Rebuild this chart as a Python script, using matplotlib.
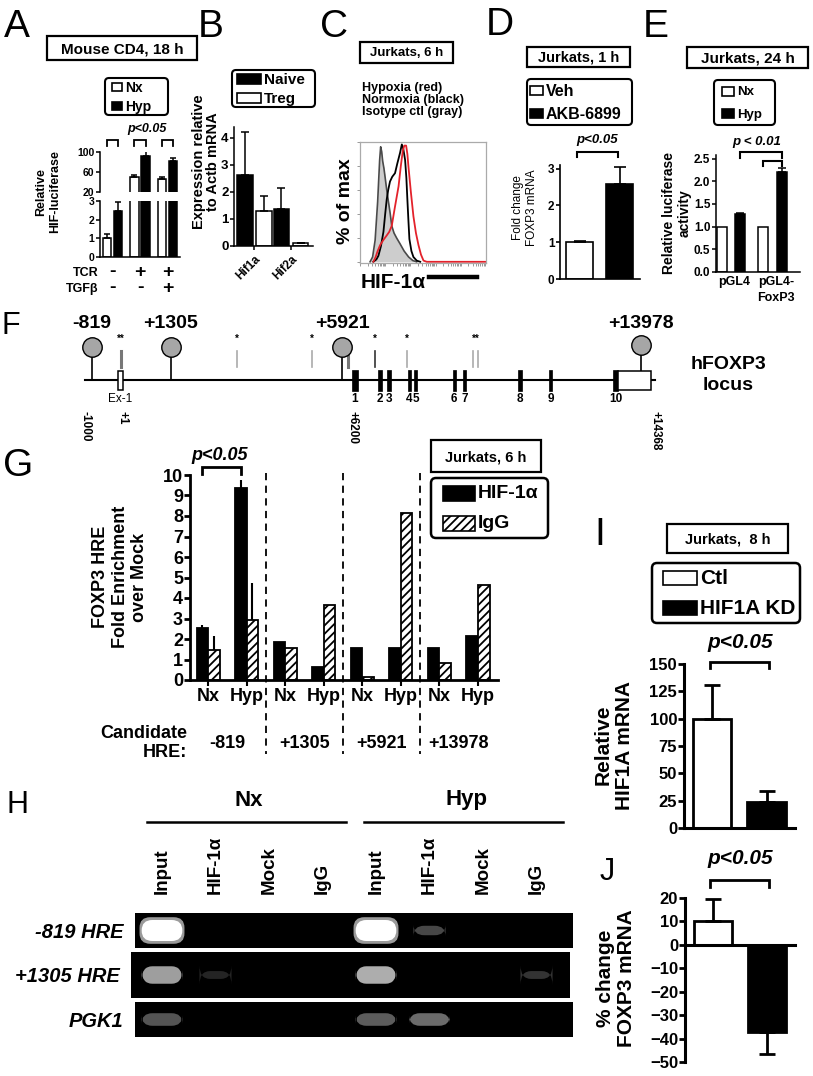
import matplotlib
matplotlib.use('Agg')
import matplotlib.pyplot as plt
from matplotlib.patches import Rectangle, FancyBboxPatch
from matplotlib.transforms import blended_transform_factory as blend
import numpy as np

plt.rcParams['font.family'] = ['Liberation Sans', 'DejaVu Sans']
plt.rcParams['font.weight'] = 'bold'
plt.rcParams['hatch.linewidth'] = 1.3
plt.rcParams['axes.linewidth'] = 1.3

W, H = 813, 1076

# A: HIF-luciferase in mouse CD4 cells
a_tcr = ['-', '+', '+']
a_tgfb = ['-', '-', '+']
a_nx = [1.0, 50, 45]
a_nx_err = [0.22, 4, 4]
a_hyp = [2.45, 92, 82]
a_hyp_err = [0.5, 13, 5]

# B: Hif expression
b_genes = ['Hif1a', 'Hif2a']
b_naive = [2.62, 1.35]
b_naive_err = [1.58, 0.8]
b_treg = [1.3, 0.1]
b_treg_err = [0.55, 0.02]

# C: flow histograms, x in log10 decades, y in % of max
c_iso_x = [0.40, 0.50, 0.60, 0.70, 0.78, 0.82, 0.86, 0.90, 0.95, 1.00, 1.06, 1.13,
           1.20, 1.26, 1.35, 1.45, 1.59, 1.75, 1.93, 2.10, 2.25]
c_iso_y = [0, 4, 18, 50, 85, 96, 92, 84, 78, 70, 60, 50, 40, 30, 24, 20, 15, 9, 4, 1, 0]
c_nx_x = [0.53, 0.65, 0.73, 0.83, 0.93, 1.00, 1.06, 1.12, 1.19, 1.28, 1.39, 1.48,
          1.59, 1.66, 1.72, 1.79, 1.84, 1.88, 1.92, 1.96, 2.04, 2.12, 2.25, 2.39]
c_nx_y = [0, 2, 5, 13, 25, 40, 52, 60, 67, 71, 74, 82, 91, 98, 94, 85, 70, 52, 35, 19,
          9, 4, 1, 0]
c_hyp_x = [0.53, 0.62, 0.70, 0.80, 0.92, 1.06, 1.16, 1.26, 1.38, 1.53, 1.62, 1.70,
           1.76, 1.83, 1.88, 1.92, 2.02, 2.12, 2.22, 2.32, 2.42, 2.52, 2.65, 5.0]
c_hyp_y = [0, 4, 9, 14, 18, 22, 25, 30, 45, 63, 80, 93, 97, 97, 90, 80, 58, 38, 24, 14,
           6, 1, 0, 0]

# D: FOXP3 mRNA with AKB-6899
d_groups = ['Veh', 'AKB-6899']
d_vals = [1.0, 2.58]
d_err = [0.03, 0.47]

# E: luciferase reporter
e_constructs = ['pGL4', 'pGL4-\nFoxP3']
e_nx = [1.0, 1.0]
e_hyp = [1.27, 2.2]
e_hyp_err = [0.04, 0.1]

# F: hFOXP3 locus, bp relative to TSS
locus = [-1000, 14368]
hre_sites = [-819, 1305, 5921, 13978]
ex1 = [-130, 20]
exon_start = [6190, 6900, 7140, 7690, 7860, 8900, 9170, 10650, 11500, 13220]
exon_end = [6350, 6990, 7250, 7770, 7950, 8980, 9260, 10770, 11590, 13360]
utr_end = 14248
cons_marks = [-40, 3090, 5110, 6080, 6810, 7670, 9450, 9585]
star_pos = [-40, 3090, 5110, 6810, 7670, 9517]
star_txt = ['**', '*', '*', '*', '*', '**']
pos_marks = [-1000, 1, 6200, 14368]
pos_labels = ['-1000', '+1', '+6200', '+14368']

# G: ChIP enrichment
g_sites = ['-819', '+1305', '+5921', '+13978']
g_cond = ['Nx', 'Hyp'] * 4
g_hif = [2.55, 9.35, 1.85, 0.65, 1.55, 1.55, 1.55, 2.15]
g_hif_err = [0.12, 0.42, 0, 0, 0, 0, 0, 0]
g_igg = [1.45, 2.95, 1.55, 3.65, 0.15, 8.15, 0.85, 4.65]
g_igg_err = [0.7, 1.8, 0, 0, 0, 0, 0, 0]

# H: gel band intensities (0 = none, 1 = saturated)
h_rows = ['-819 HRE', '+1305 HRE', 'PGK1']
h_lanes = ['Input', 'HIF-1α', 'Mock', 'IgG'] * 2
h_bands = [[1.0, 0, 0, 0, 1.0, 0.28, 0, 0],
           [0.62, 0.14, 0, 0, 0.68, 0, 0, 0.2],
           [0.33, 0, 0, 0, 0.36, 0.42, 0, 0]]

# I / J: knockdown
ij_groups = ['Ctl', 'HIF1A KD']
i_vals = [100, 24]
i_err = [31, 10]
j_vals = [10, -37]
j_err = [9.5, 9.5]


fig = plt.figure(figsize=(W / 100, H / 100), dpi=100)
ov = fig.add_axes([0, 0, 1, 1])
ov.set_xlim(0, W)
ov.set_ylim(H, 0)
ov.axis('off')
ov.set_zorder(10)
ov.set_autoscale_on(False)


def px_ax(x0, y0, x1, y1):
    return fig.add_axes([x0 / W, 1 - y1 / H, (x1 - x0) / W, (y1 - y0) / H])


def prism(ax, lw=1.3, fs=8):
    for s in ['top', 'right']:
        ax.spines[s].set_visible(False)
    for s in ['left', 'bottom']:
        ax.spines[s].set_linewidth(lw)
    ax.tick_params(axis='y', width=lw, length=3, labelsize=fs, pad=1)
    ax.tick_params(axis='x', length=0, labelsize=fs)
    ax.patch.set_alpha(0)


def errs(ax, x, v, e, lw=1.2, cap=2.5, down=False):
    z = np.zeros(len(v))
    yerr = [e, z] if down else [z, e]
    ax.errorbar(x, v, yerr=yerr, fmt='none', ecolor='k', elinewidth=lw, capsize=cap, capthick=lw)


def title_box(x0, y0, x1, y1, s, fs=10, lw=1.6):
    ov.add_patch(Rectangle((x0, y0), x1 - x0, y1 - y0, fill=False, ec='k', lw=lw))
    ov.text((x0 + x1) / 2, (y0 + y1) / 2 + 1, s, ha='center', va='center', fontsize=fs)


def legend_box(x0, y0, x1, y1, entries, sx, sw, sh, fs, lw=1.5, r=4):
    ov.add_patch(FancyBboxPatch((x0, y0), x1 - x0, y1 - y0, boxstyle='round,pad=0,rounding_size=%d' % r,
                                fc='white', ec='k', lw=lw))
    n = len(entries)
    for i, (lab, fc, hatch) in enumerate(entries):
        yc = y0 + (y1 - y0) * (i + 0.5) / n
        ov.add_patch(Rectangle((x0 + sx, yc - sh / 2), sw, sh, fc=fc, ec='k', lw=1.2, hatch=hatch))
        ov.text(x0 + sx + sw + 3, yc + 1, lab, va='center', ha='left', fontsize=fs)


def bracket(ax, x0, x1, y, leg=6, lw=1.5):
    tr = blend(ax.transData, ov.transData)
    ov.plot([x0, x0, x1, x1], [y + leg, y, y, y + leg], transform=tr, color='k', lw=lw,
            clip_on=False, solid_joinstyle='miter')


def letter(x, y, s, fs=28):
    ov.text(x, y, s, fontsize=fs, fontweight='normal', ha='left', va='baseline')


# ---------------- A ----------------
letter(4, 37, 'A')
title_box(47, 36, 197, 60, 'Mouse CD4, 18 h', fs=11)
legend_box(105, 78, 168, 115, [('Nx', 'white', None), ('Hyp', 'k', None)], 7, 10, 8, 10)
ov.text(147, 129, 'p<0.05', ha='center', va='center', fontsize=9, style='italic')
a_up = px_ax(100, 152, 180, 191.5)
a_lo = px_ax(100, 201, 180, 257)
xa = np.arange(3)
for ax in (a_up, a_lo):
    ax.bar(xa - 0.2, a_nx, 0.3, color='white', edgecolor='k', lw=1.1)
    ax.bar(xa + 0.2, a_hyp, 0.3, color='k', edgecolor='k', lw=1.1)
    errs(ax, xa - 0.2, a_nx, a_nx_err, lw=1.1, cap=2)
    errs(ax, xa + 0.2, a_hyp, a_hyp_err, lw=1.1, cap=2)
    ax.set_xlim(-0.45, 2.45)
    ax.set_xticks([])
    prism(ax, lw=1.1, fs=8)
a_up.set_ylim(20, 100)
a_up.set_yticks([20, 60, 100])
a_up.spines['bottom'].set_visible(False)
a_lo.set_ylim(0, 3)
a_lo.set_yticks([0, 1, 2, 3])
a_up.tick_params(axis='y', labelsize=7.5)
a_lo.tick_params(axis='y', labelsize=7.5)
for i in range(3):
    bracket(a_lo, i - 0.2, i + 0.2, 140, leg=6, lw=1.3)
tr_a = blend(a_lo.transData, ov.transData)
for i in range(3):
    ov.text(i, 272, a_tcr[i], transform=tr_a, ha='center', va='center', fontsize=14)
    ov.text(i, 288, a_tgfb[i], transform=tr_a, ha='center', va='center', fontsize=14)
ov.text(98, 273, 'TCR', ha='right', va='center', fontsize=9)
ov.text(98, 289, 'TGFβ', ha='right', va='center', fontsize=9)
ov.text(48, 192, 'Relative\nHIF-luciferase', rotation=90, ha='center', va='center', fontsize=9,
        linespacing=1.15)

# ---------------- B ----------------
letter(198, 37, 'B')
legend_box(232, 70, 315, 107, [('Naive', 'k', None), ('Treg', 'white', None)], 5, 24, 10, 11)
b_ax = px_ax(234, 127, 313, 246)
xb = np.arange(2)
b_ax.bar(xb - 0.26, b_naive, 0.43, color='k', edgecolor='k', lw=1.1)
b_ax.bar(xb + 0.26, b_treg, 0.43, color='white', edgecolor='k', lw=1.1)
errs(b_ax, xb - 0.26, b_naive, b_naive_err, lw=1.1, cap=3)
errs(b_ax, xb + 0.26, b_treg, b_treg_err, lw=1.1, cap=3)
b_ax.set_ylim(0, 4.4)
b_ax.set_yticks([0, 1, 2, 3, 4])
b_ax.set_xlim(-0.55, 1.6)
prism(b_ax, lw=1.1, fs=9.5)
b_ax.set_xticks(xb)
b_ax.set_xticklabels(b_genes, rotation=45, ha='right', rotation_mode='anchor', fontsize=8.5)
b_ax.tick_params(axis='x', length=3, width=1.1, pad=2)
ov.text(206, 162, 'Expression relative\nto Actb mRNA', rotation=90, ha='center', va='center',
        fontsize=10.5, linespacing=1.05)

# ---------------- C ----------------
letter(320, 37, 'C')
title_box(360, 42, 453, 63, 'Jurkats, 6 h', fs=9.5)
for k, s in enumerate(['Hypoxia (red)', 'Normoxia (black)', 'Isotype ctl (gray)']):
    ov.text(362, 88 + 12 * k, s, ha='left', va='center', fontsize=9)
c_ax = px_ax(360, 142, 486, 263)
c_ax.fill_between(c_iso_x, c_iso_y, color='#cdcdcd', lw=0)
c_ax.plot(c_iso_x, c_iso_y, color='#4a4a4a', lw=1.2)
c_ax.plot(c_nx_x, c_nx_y, color='k', lw=1.3)
c_ax.plot(c_hyp_x, c_hyp_y, color='#e3222b', lw=1.3)
c_ax.set_xlim(0, 5)
c_ax.set_ylim(-1, 100)
for s in c_ax.spines.values():
    s.set_color('#aaaaaa')
    s.set_linewidth(0.9)
c_ax.set_xticks([d + np.log10(k) for d in range(5) for k in range(1, 10)])
c_ax.set_yticks([0, 20, 40, 60, 80, 100])
c_ax.tick_params(length=2, width=0.7, color='#999999', labelbottom=False, labelleft=False)
ov.text(345, 201, '% of max', rotation=90, ha='center', va='center', fontsize=14)
ov.text(361, 283, 'HIF-1α', ha='left', va='center', fontsize=15)
ov.plot([429, 477], [277, 277], color='k', lw=3.2)

# ---------------- D ----------------
letter(486, 35, 'D')
title_box(527, 47, 630, 67, 'Jurkats, 1 h', fs=10.5)
legend_box(527, 79, 632, 125, [('Veh', 'white', None), ('AKB-6899', 'k', None)], 3, 13, 9, 11.5)
d_ax = px_ax(560, 165, 640, 279)
xd = np.arange(2)
d_ax.bar(xd, d_vals, 0.68, color=['white', 'k'], edgecolor='k', lw=1.2)
errs(d_ax, xd, d_vals, d_err, lw=1.2, cap=4)
d_ax.set_ylim(0, 3.1)
d_ax.set_yticks([0, 1, 2, 3])
d_ax.set_xlim(-0.49, 1.51)
d_ax.set_xticks([])
prism(d_ax, lw=1.2, fs=8.5)
ov.text(597, 140, 'p<0.05', ha='center', va='center', fontsize=9.5, style='italic')
bracket(d_ax, -0.07, 0.97, 152, leg=5)
ov.text(525, 208, 'Fold change\nFOXP3 mRNA', rotation=90, ha='center', va='center', fontsize=8.5,
        fontweight='normal', linespacing=1.3)

# ---------------- E ----------------
letter(643, 37, 'E')
title_box(687, 47, 808, 68, 'Jurkats, 24 h', fs=11)
legend_box(714, 80, 775, 125, [('Nx', 'white', None), ('Hyp', 'k', None)], 8, 12, 9, 9.5)
e_ax = px_ax(716, 155, 800, 272)
xe = np.arange(2)
e_ax.bar(xe - 0.22, e_nx, 0.24, color='white', edgecolor='k', lw=1.1)
e_ax.bar(xe + 0.22, e_hyp, 0.24, color='k', edgecolor='k', lw=1.1)
errs(e_ax, xe + 0.22, e_hyp, e_hyp_err, lw=1.1, cap=3)
e_ax.set_ylim(0, 2.58)
e_ax.set_yticks([0, 0.5, 1.0, 1.5, 2.0, 2.5])
e_ax.set_yticklabels(['0.0', '0.5', '1.0', '1.5', '2.0', '2.5'])
e_ax.set_xlim(-0.36, 1.66)
prism(e_ax, lw=1.1, fs=8.5)
e_ax.set_xticks(xe + 0.08)
e_ax.set_xticklabels(e_constructs, fontsize=9, linespacing=1.45, va='top')
e_ax.tick_params(axis='x', pad=3)
ov.text(757, 142, 'p < 0.01', ha='center', va='center', fontsize=9.5, style='italic')
bracket(e_ax, 0.22, 1.22, 152, leg=6)
bracket(e_ax, 0.78, 1.22, 161, leg=5)
ov.text(677, 213, 'Relative luciferase\nactivity', rotation=90, ha='center', va='center',
        fontsize=10, linespacing=1.1)

# ---------------- F ----------------
letter(2, 334, 'F', fs=22)
f_ax = px_ax(0, 295, 813, 455)
f_ax.set_xlim(-3299, 18615)
f_ax.set_ylim(455, 295)
f_ax.axis('off')
f_ax.plot(locus, [380, 380], color='k', lw=1.5, zorder=1)
f_ax.add_patch(Rectangle((ex1[0], 371), ex1[1] - ex1[0], 19, fc='white', ec='k', lw=1.1, zorder=3))
for s, e in zip(exon_start, exon_end):
    f_ax.add_patch(Rectangle((s, 370), e - s, 21, fc='k', ec='k', lw=0.5, zorder=3))
f_ax.add_patch(Rectangle((exon_end[-1], 371), utr_end - exon_end[-1], 19, fc='white', ec='k', lw=1.1,
                         zorder=3))
for k, (s, e) in enumerate(zip(exon_start, exon_end)):
    f_ax.text((s + e) / 2, 399, str(k + 1), ha='center', va='center', fontsize=8.5)
f_ax.text(sum(ex1) / 2, 399, 'Ex-1', ha='center', va='center', fontsize=8.5, fontweight='normal')
for k, m in enumerate(cons_marks):
    col = '#333333' if m == 6810 else ('#777777' if m in (-40, 6080) else '#aaaaaa')
    f_ax.plot([m, m], [351, 367], color=col, lw=2.2 if m in (-40, 6080) else 1.2, zorder=2)
for p, t in zip(star_pos, star_txt):
    f_ax.text(p, 339, t, ha='center', va='center', fontsize=7)
for p in hre_sites:
    bottom = 371 if p > exon_end[-1] else 380
    cy = 345 if p > exon_end[-1] else 347
    f_ax.plot([p, p], [cy, bottom], color='k', lw=1.2, zorder=2)
    f_ax.plot([p], [cy], 'o', ms=14, mfc='#a6a6a6', mec='k', mew=1.0, zorder=4)
    f_ax.text(p, 324, ('+%d' % p) if p > 0 else str(p), ha='center', va='center', fontsize=14)
for p, t in zip(pos_marks, pos_labels):
    f_ax.text(p, 411, t, rotation=-90, ha='center', va='top', fontsize=8.5)
ov.text(728, 375, 'hFOXP3\nlocus', ha='center', va='center', fontsize=14, linespacing=1.3)

# ---------------- G ----------------
letter(3, 476, 'G')
g_ax = px_ax(190, 475, 498, 680)
xg = np.arange(8)
g_ax.bar(xg - 0.15, g_hif, 0.3, color='k', edgecolor='k', lw=1.3)
g_ax.bar(xg + 0.15, g_igg, 0.3, color='white', edgecolor='k', lw=1.3, hatch='////')
errs(g_ax, xg - 0.15, g_hif, g_hif_err, lw=1.5, cap=0)
errs(g_ax, xg + 0.15, g_igg, g_igg_err, lw=1.5, cap=0)
g_ax.set_ylim(0, 10)
g_ax.set_yticks(range(11))
g_ax.set_xlim(-0.47, 7.52)
prism(g_ax, lw=2.0, fs=13)
g_ax.tick_params(axis='y', length=4, pad=1)
g_ax.set_xticks(xg)
g_ax.set_xticklabels(g_cond, fontsize=13)
g_ax.tick_params(axis='x', length=4, width=1.5, pad=2)
tr_g = g_ax.get_xaxis_transform()
for xv in [1.5, 3.5, 5.5]:
    g_ax.plot([xv, xv], [1.01, -0.36], transform=tr_g, color='k', lw=1.3, ls=(0, (4, 3)),
              clip_on=False)
for k, s in enumerate(g_sites):
    g_ax.text(2 * k + 0.5, -0.31, s, transform=tr_g, ha='center', va='center', fontsize=13)
ov.text(187, 743, 'Candidate\nHRE:', ha='right', va='center', fontsize=13, linespacing=1.1,
        multialignment='right')
ov.text(120, 577, 'FOXP3 HRE\nFold Enrichment\nover Mock', rotation=90, ha='center', va='center',
        fontsize=13, linespacing=1.2)
ov.text(220, 456, 'p<0.05', ha='center', va='center', fontsize=13, style='italic')
bracket(g_ax, -0.15, 0.85, 467, leg=7, lw=2)
title_box(431, 440, 541, 472, 'Jurkats, 6 h', fs=10.5)
legend_box(431, 478, 548, 538, [('HIF-1α', 'k', None), ('IgG', 'white', '////')], 12, 32, 15, 14,
           lw=1.8, r=5)

# ---------------- H ----------------
letter(6, 813, 'H', fs=22)
strips = [(135, 913, 573, 948, 0.6), (131, 952, 570, 998, 0.38), (135, 1002, 573, 1037, 0.36)]
for r, (x0, y0, x1, y1, bh) in enumerate(strips):
    hx = px_ax(x0, y0, x1, y1)
    hx.set_facecolor('black')
    hx.set_xlim((x0 - 162) / 53.5, (x1 - 162) / 53.5)
    hx.set_ylim(0, 1)
    for s in hx.spines.values():
        s.set_visible(False)
    for j, v in enumerate(h_bands[r]):
        if v <= 0:
            continue
        hh = bh if v >= 0.3 else bh * 0.45
        ww = 0.76 if v >= 0.3 else 0.6
        if v >= 0.9:
            hx.add_patch(FancyBboxPatch((j - 0.42, 0.5 - bh / 2 - 0.08), 0.84, bh + 0.16,
                                        boxstyle='round,pad=0,rounding_size=0.2', fc='#9a9a9a',
                                        ec='none', mutation_aspect=1.5))
        hx.add_patch(FancyBboxPatch((j - ww / 2, 0.5 - hh / 2), ww, hh,
                                    boxstyle='round,pad=0,rounding_size=0.2', fc=str(min(v, 1.0)),
                                    ec='none', mutation_aspect=1.5))
    hx.set_yticks([0.5])
    hx.set_yticklabels([h_rows[r]], fontsize=14.5, style='italic')
    hx.tick_params(axis='y', length=0, pad=8)
    if r == 0:
        hx.xaxis.tick_top()
        hx.set_xticks(range(8))
        hx.set_xticklabels(h_lanes, rotation=90, fontsize=13.5)
        hx.tick_params(axis='x', length=0, pad=14)
    else:
        hx.set_xticks([])
ov.text(249, 800, 'Nx', ha='center', va='center', fontsize=16)
ov.text(466, 800, 'Hyp', ha='center', va='center', fontsize=16)
ov.plot([147, 346], [822, 822], color='k', lw=1.8)
ov.plot([364, 563], [822, 822], color='k', lw=1.8)

# ---------------- I ----------------
letter(594, 545, 'I')
title_box(667, 524, 788, 553, 'Jurkats,  8 h', fs=10.5)
legend_box(652, 563, 800, 623, [('Ctl', 'white', None), ('HIF1A KD', 'k', None)], 11, 34, 14, 15,
           lw=1.8, r=5)
i_ax = px_ax(684, 664, 795, 828)
xi = np.arange(2)
i_ax.bar(xi, i_vals, 0.7, color=['white', 'k'], edgecolor='k', lw=2)
errs(i_ax, xi, i_vals, i_err, lw=2, cap=6)
i_ax.set_ylim(0, 150)
i_ax.set_yticks([0, 25, 50, 75, 100, 125, 150])
i_ax.set_xlim(-0.51, 1.52)
i_ax.set_xticks([])
prism(i_ax, lw=2.2, fs=12)
i_ax.tick_params(axis='y', length=4, width=2)
ov.text(740, 642, 'p<0.05', ha='center', va='center', fontsize=15, style='italic')
bracket(i_ax, -0.04, 1.04, 662, leg=6, lw=2)
ov.text(614, 745, 'Relative\nHIF1A mRNA', rotation=90, ha='center', va='center', fontsize=15,
        linespacing=1.15)

# ---------------- J ----------------
letter(600, 880, 'J', fs=22)
j_ax = px_ax(685, 898, 795, 1062)
j_ax.bar(xi, j_vals, 0.7, color=['white', 'k'], edgecolor='k', lw=2)
errs(j_ax, xi[:1], j_vals[:1], j_err[:1], lw=2, cap=6)
errs(j_ax, xi[1:], j_vals[1:], j_err[1:], lw=2, cap=6, down=True)
j_ax.set_ylim(-50, 20)
j_ax.set_yticks(range(-50, 21, 10))
j_ax.set_xlim(-0.51, 1.52)
j_ax.set_xticks([])
prism(j_ax, lw=2.2, fs=12)
j_ax.spines['bottom'].set_position(('data', 0))
j_ax.tick_params(axis='y', length=4, width=2)
ov.text(740, 858, 'p<0.05', ha='center', va='center', fontsize=15, style='italic')
bracket(j_ax, -0.04, 1.04, 880, leg=7, lw=2)
ov.text(616, 978, '% change\nFOXP3 mRNA', rotation=90, ha='center', va='center', fontsize=15,
        linespacing=1.15)

fig.savefig('out.png', dpi=100)
